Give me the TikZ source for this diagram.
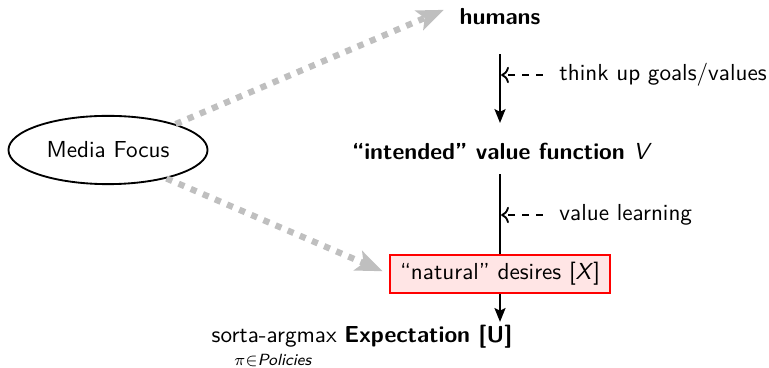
\documentclass[tikz,border=0pt]{standalone}
\usetikzlibrary{arrows.meta,shapes.geometric}
\begin{document}
\begin{tikzpicture}[x=0.432pt,y=-0.432pt,
  every node/.style={font=\sffamily},
  lbl/.style={font=\sffamily},
  bold/.style={font=\sffamily\bfseries},
  blk/.style={thick,-{Stealth[length=6pt,width=4.8pt,inset=1.2pt]}},
  blkline/.style={thick},
  dasharrow/.style={thick,dashed,->},
  grayarrow/.style={gray!50,line width=2.7pt,dash pattern=on 2.7pt off 3pt,
     -{Stealth[length=11.5pt,width=9pt,inset=2.5pt]}},
  redbox/.style={draw=red,fill=red!10,thick,minimum width=95pt,minimum height=16.6pt,inner sep=2pt}
]
\useasboundingbox (0,0) rectangle (769,368);
\node[draw,thick,ellipse,minimum width=86pt,minimum height=29.5pt,inner sep=0pt] (mf) at (108,150) {Media Focus};
\node[bold] (hum) at (500,17) {humans};
\node[bold] (V) at (502,151) {``intended'' value function \textmd{\textit{V}}};
\node[redbox] (X) at (500,274) {``natural'' desires [\textit{X}]};
\node (E) at (362,337) {sorta-argmax \textbf{Expectation [U]}};
\node[font=\sffamily\scriptsize,inner sep=0pt] (sub) at (273,360) {$\pi{\in}$\textit{Policies}};
\node[lbl,anchor=west,inner sep=0pt] (l1) at (559,75) {think up goals/values};
\node[lbl,anchor=west,inner sep=0pt] (l2) at (559,215) {value learning};
% main chain
\draw[blk,shorten <=9pt,shorten >=5pt] (hum.south -| X.north) -- (V.north -| X.north);
\draw[blkline,shorten <=3pt] (V.south -| X.north) -- (X.north);
\draw[blk,shorten >=-2pt] (X.south) -- (X.south |- E.north);
% labels
\draw[dasharrow,shorten <=7pt,shorten >=0.5pt] (l1.west) -- (l1.west -| X.north);
\draw[dasharrow,shorten <=7pt,shorten >=0.5pt] (l2.west) -- (l2.west -| X.north);
% gray arrows
\draw[grayarrow,shorten >=3.5pt] (mf.21) -- (hum.168);
\draw[grayarrow,shorten >=3pt] (mf.-26) -- (X.west);
\end{tikzpicture}
\end{document}
